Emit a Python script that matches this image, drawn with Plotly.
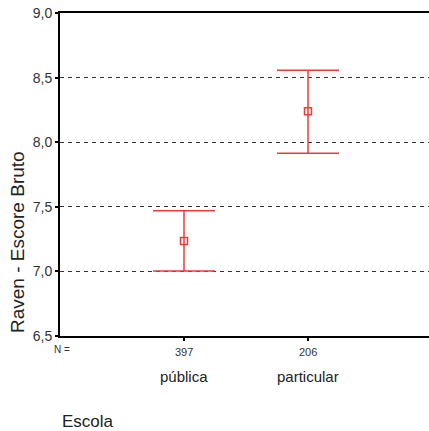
import plotly.graph_objects as go

categories = ["pública", "particular"]
counts = [397, 206]
means = [7.235, 8.239]
ci_low = [7.003, 7.914]
ci_high = [7.470, 8.557]
y_ticks = [6.5, 7.0, 7.5, 8.0, 8.5, 9.0]

red = "#ee3b3b"
xpos = [1, 2]

fig = go.Figure()
fig.add_trace(go.Scatter(
    x=xpos, y=means, mode="markers",
    marker=dict(symbol="square-open", size=7, color=red, line=dict(width=1.5, color=red)),
    error_y=dict(type="data", symmetric=False,
                 array=[h - m for h, m in zip(ci_high, means)],
                 arrayminus=[m - l for m, l in zip(means, ci_low)],
                 color=red, thickness=1.5, width=31),
    showlegend=False, hoverinfo="skip",
))

W, H = 429, 431
ml, mr, mt, mb = 60, 0, 13, 95
plot_w = W - ml - mr
fig.update_layout(
    width=W, height=H,
    margin=dict(l=ml, r=mr, t=mt, b=mb, autoexpand=False),
    paper_bgcolor="white", plot_bgcolor="white",
    separators=",.",
    font=dict(family="Liberation Sans, Arial, sans-serif", color="#222"),
    xaxis=dict(range=[0, plot_w / 124], tickvals=xpos, ticktext=["", ""],
               showgrid=False, zeroline=False, showline=True, mirror=True,
               linecolor="black", linewidth=2, ticks="outside", ticklen=3,
               tickwidth=2, tickcolor="black", fixedrange=True, automargin=False),
    yaxis=dict(range=[6.5, 9.0], tickvals=y_ticks, tickformat=".1f",
               showgrid=True, gridcolor="#333", gridwidth=1, griddash="4px,4px",
               zeroline=False, showline=True, linecolor="black", linewidth=2,
               ticks="outside", ticklen=3, tickwidth=2, tickcolor="black",
               ticklabeloverflow="allow", automargin=False,
               tickfont=dict(size=14, color="#333"), fixedrange=True),
)

ann = []
for x, c, n in zip(xpos, categories, counts):
    ann.append(dict(x=x, y=0, xref="x", yref="paper", text=str(n), showarrow=False,
                    yanchor="middle", yshift=-16, font=dict(size=11, color="#333")))
    ann.append(dict(x=x, y=0, xref="x", yref="paper", text=c, showarrow=False,
                    yanchor="middle", yshift=-40, font=dict(size=15, color="#222")))
ann.append(dict(x=0, y=0, xref="paper", yref="paper", text="N =", showarrow=False,
                xanchor="center", yanchor="middle", xshift=2, yshift=-13,
                font=dict(size=10, color="#333")))
ann.append(dict(x=0, y=0, xref="paper", yref="paper", text="Escola", showarrow=False,
                xanchor="left", yanchor="middle", xshift=0, yshift=-85,
                font=dict(size=17, color="#222")))
ann.append(dict(x=0, y=0, xref="paper", yref="paper", text="Raven - Escore Bruto",
                showarrow=False, textangle=-90, xanchor="center", yanchor="middle",
                xshift=-43, yshift=94, font=dict(size=19, color="#222")))
fig.update_layout(annotations=ann)

fig.write_html("out.html", config={"displayModeBar": False},
               post_script="document.body.style.margin='0';")
